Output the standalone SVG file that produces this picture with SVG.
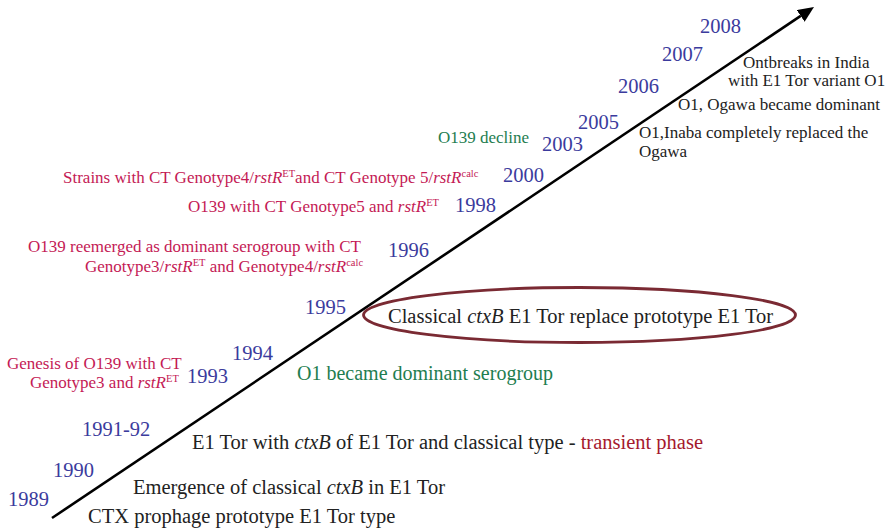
<svg xmlns="http://www.w3.org/2000/svg" width="894" height="532" viewBox="0 0 894 532">
<style>
text{font-family:"Liberation Serif","Times New Roman",serif;}
.yr{font-size:20.5px;fill:#3b3b9d;}
.red{font-size:17px;fill:#c41a55;}
.blk{font-size:20.5px;fill:#222;}
.blks{font-size:17px;fill:#222;}
.grn{fill:#1e7d50;}
.it{font-style:italic;}
.sup{font-size:10.5px;}
.tr{fill:#a5192d;}
</style>
<defs>
<marker id="arrow" viewBox="0 0 16 14" refX="0" refY="7" markerWidth="16" markerHeight="14" markerUnits="userSpaceOnUse" orient="auto"><path d="M0,0 L16,7 L0,14 z" fill="#000"/></marker>
</defs>
<rect width="894" height="532" fill="#fff"/>
<g id="connectors">
<line x1="52" y1="518" x2="800.7" y2="15.9" stroke="#000" stroke-width="2.6" marker-end="url(#arrow)"/>
</g>
<g id="y1989"><text class="yr" x="8" y="506">1989</text><text class="blk" x="88" y="523">CTX prophage prototype E1 Tor type</text></g>
<g id="y1990"><text class="yr" x="53" y="477">1990</text><text class="blk" x="133" y="494">Emergence of classical <tspan class="it">ctxB</tspan> in E1 Tor</text></g>
<g id="y1991"><text class="yr" x="82" y="436">1991-92</text><text class="blk" x="192" y="449">E1 Tor with <tspan class="it">ctxB</tspan> of E1 Tor and classical type - <tspan class="tr">transient phase</tspan></text></g>
<g id="y1993"><text class="yr" x="187" y="383">1993</text><text class="red" x="7" y="369">Genesis of O139 with CT</text><text class="red" x="30" y="388">Genotype3 and <tspan class="it">rstR</tspan><tspan class="sup" dy="-6">ET</tspan></text></g>
<g id="y1994"><text class="yr" x="232" y="360">1994</text><text class="grn" font-size="20" x="297" y="380">O1 became dominant serogroup</text></g>
<g id="y1995"><text class="yr" x="305" y="314">1995</text><ellipse cx="579.5" cy="315" rx="216" ry="27.5" fill="none" stroke="#7a2a33" stroke-width="2.8"/><text class="blk" x="388" y="323">Classical <tspan class="it">ctxB</tspan> E1 Tor replace prototype E1 Tor</text></g>
<g id="y1996"><text class="yr" x="388" y="257">1996</text><text class="red" x="28" y="252">O139 reemerged as dominant serogroup with CT</text><text class="red" x="85" y="272">Genotype3/<tspan class="it">rstR</tspan><tspan class="sup" dy="-6">ET</tspan><tspan dy="6"> and Genotype4/</tspan><tspan class="it">rstR</tspan><tspan class="sup" dy="-6">calc</tspan></text></g>
<g id="y1998"><text class="yr" x="455" y="212">1998</text><text class="red" x="188" y="212">O139 with CT Genotype5 and <tspan class="it">rstR</tspan><tspan class="sup" dy="-6">ET</tspan></text></g>
<g id="y2000"><text class="yr" x="503" y="182">2000</text><text class="red" x="63" y="183">Strains with CT Genotype4/<tspan class="it">rstR</tspan><tspan class="sup" dy="-6">ET</tspan><tspan dy="6">and CT Genotype 5/</tspan><tspan class="it">rstR</tspan><tspan class="sup" dy="-6">calc</tspan></text></g>
<g id="y2003"><text class="yr" x="542" y="151">2003</text><text class="grn" font-size="17" x="438" y="143">O139 decline</text></g>
<g id="y2005"><text class="yr" x="578" y="129">2005</text><text class="blks" x="639" y="138">O1,Inaba completely replaced the</text><text class="blks" x="639" y="157">Ogawa</text></g>
<g id="y2006"><text class="yr" x="618" y="93">2006</text><text class="blks" x="678" y="110">O1, Ogawa became dominant</text></g>
<g id="y2007"><text class="yr" x="662" y="61">2007</text><text class="blks" x="743" y="68">Ontbreaks in India</text><text class="blks" x="728" y="86">with E1 Tor variant O1</text></g>
<g id="y2008"><text class="yr" x="700" y="33">2008</text></g>
</svg>
